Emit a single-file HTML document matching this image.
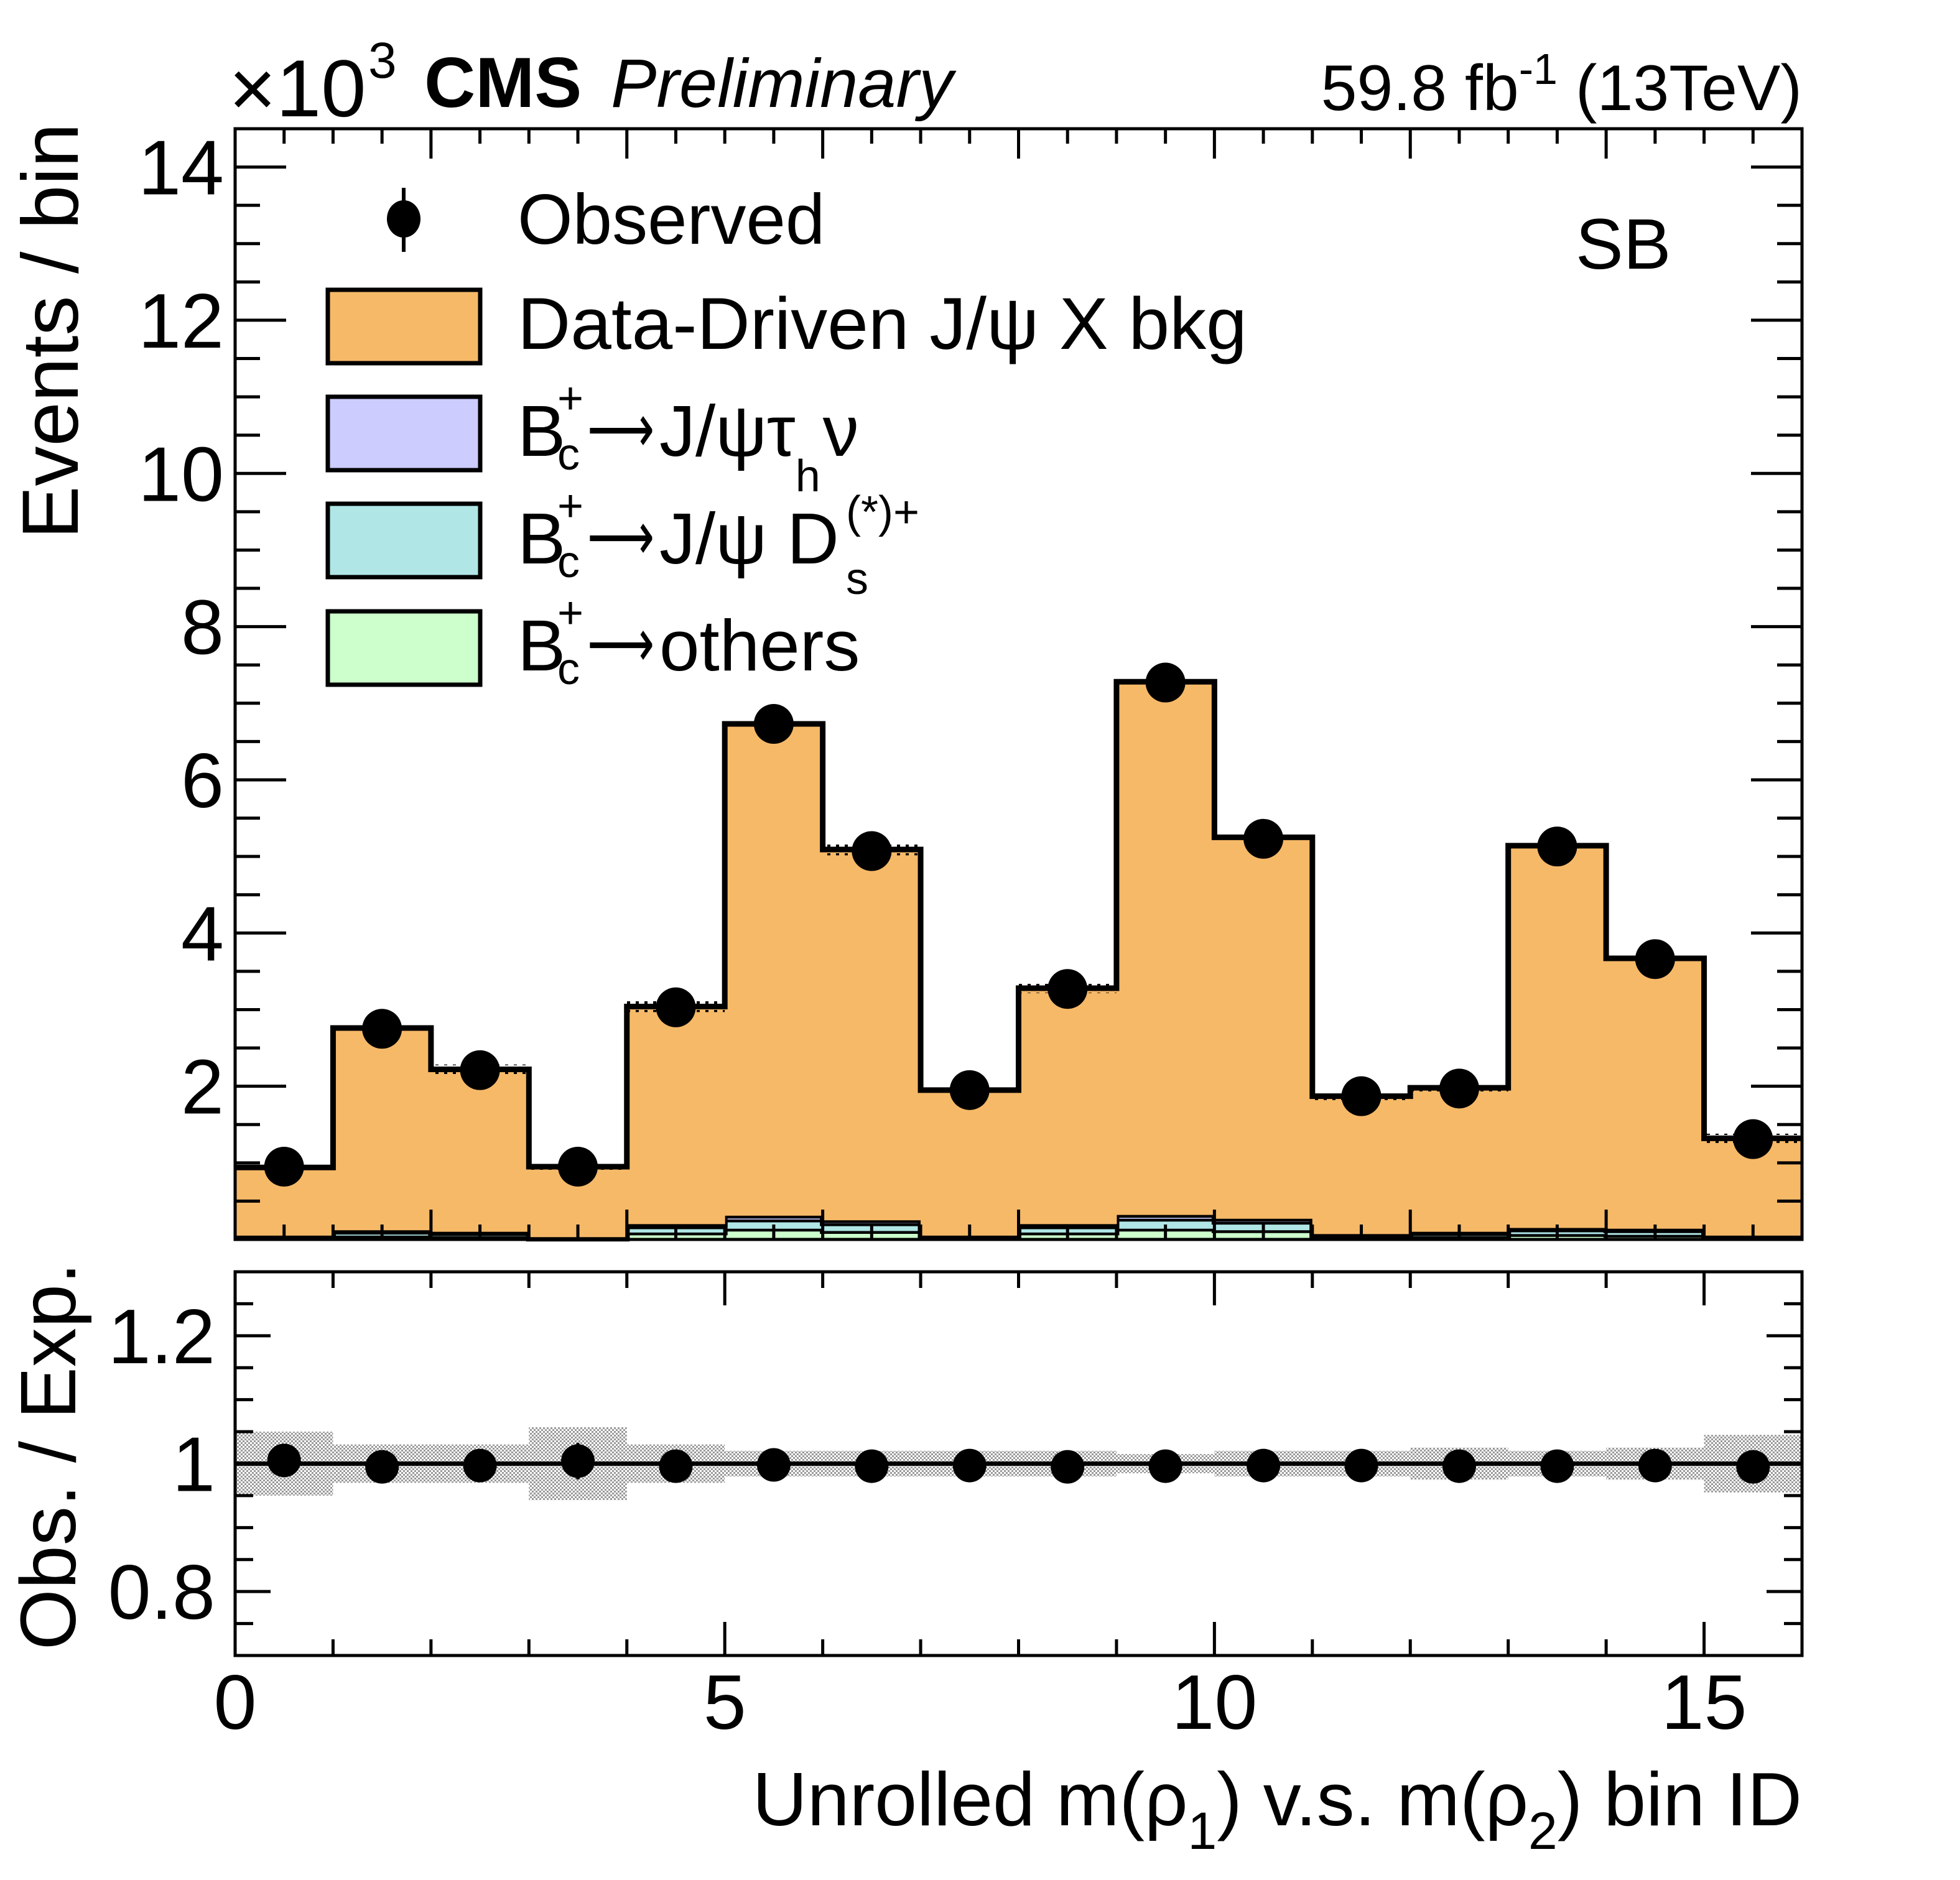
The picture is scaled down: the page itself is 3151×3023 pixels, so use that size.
<!DOCTYPE html>
<html><head><meta charset="utf-8"><style>
html,body{margin:0;padding:0;background:#fff;}
svg{display:block;font-family:"Liberation Sans",Arial,sans-serif;}
</style></head><body>
<svg id="c" width="3151" height="3023" viewBox="0 0 3151 3023" xmlns="http://www.w3.org/2000/svg">
<defs>
<pattern id="dots" width="14" height="14" patternUnits="userSpaceOnUse"><rect x="0" y="0" width="5" height="5" fill="#000"/></pattern>
<pattern id="check" width="6" height="6" patternUnits="userSpaceOnUse"><rect width="6" height="6" fill="#fff"/><rect x="0" y="0" width="3" height="3" fill="#999"/><rect x="3" y="3" width="3" height="3" fill="#999"/></pattern>
</defs>
<g id="g"></g>
</svg>
<script>
const nbins = 16;
const observed = [0.95,2.75,2.21,0.95,3.03,6.73,5.07,1.95,3.27,7.27,5.23,1.87,1.97,5.13,3.66,1.31];
const ddBkg = [0.89,2.64,2.12,0.92,2.84,6.42,4.84,1.90,3.08,6.96,4.98,1.80,1.88,4.99,3.53,1.27];
const others = [0.02,0.05,0.04,0.01,0.09,0.14,0.11,0.02,0.09,0.14,0.12,0.03,0.04,0.07,0.06,0.02];
const dsBkg = [0.02,0.05,0.04,0.01,0.08,0.12,0.10,0.02,0.08,0.13,0.11,0.03,0.04,0.06,0.06,0.02];
const tauSig = [0.01,0.02,0.02,0.01,0.03,0.05,0.04,0.01,0.03,0.05,0.04,0.01,0.02,0.02,0.02,0.01];
const ratio = [1.005,0.995,0.997,1.004,0.996,0.998,0.996,0.997,0.995,0.996,0.997,0.997,0.996,0.996,0.997,0.995];
const relErr = [0.05,0.03,0.03,0.057,0.03,0.02,0.02,0.02,0.02,0.015,0.02,0.02,0.025,0.02,0.025,0.045];
const upperTicks = [2,4,6,8,10,12,14];
const ratioTicks = [0.8,1,1.2];
const xTicks = [0,5,10,15];

const NS="http://www.w3.org/2000/svg";
const G=document.getElementById('g');
const L=378,R=2897,UT=207,UB=1993,RT=2045,RB=2662;
const X=v=>L+(R-L)*v/nbins;
const YU=v=>UB-(UB-UT)*v/14.5;
const YR=v=>RB-(RB-RT)*(v-0.7)/0.6;
function mk(tag,attrs,parent){const e=document.createElementNS(NS,tag);for(const k in attrs)e.setAttribute(k,attrs[k]);(parent||G).appendChild(e);return e;}
function txt(x,y,s,size,extra){const t=mk('text',Object.assign({x:x,y:y,'font-size':size},extra||{}));t.textContent=s;return t;}

const layers=[[others,'#ccffcc','stack-others'],[dsBkg,'#b0e6e6','stack-ds'],[tauSig,'#ccccff','stack-tau'],[ddBkg,'#f6b968','stack-datadriven']];
const base=new Array(nbins).fill(0);
layers.forEach(([arr,col,nm])=>{
  for(let i=0;i<nbins;i++){
    const y0=base[i],y1=base[i]+arr[i];
    const r=mk('rect',{x:X(i),y:YU(y1),width:X(i+1)-X(i)+0.5,height:YU(y0)-YU(y1),fill:col});
    
    
  }
  for(let i=0;i<nbins;i++)base[i]+=arr[i];
  let d='M'+X(0)+','+YU(base[0]);
  for(let i=0;i<nbins;i++){d+=' H'+X(i+1);if(i<nbins-1)d+=' V'+YU(base[i+1]);}
  const p=mk('path',{d:d,fill:'none',stroke:'#000','stroke-width':9});
  
  
});
for(let i=0;i<nbins;i++){
  const t=base[i],e=t*relErr[i]*0.35+0.04;
  const r=mk('rect',{x:X(i),y:YU(t+e),width:X(i+1)-X(i),height:YU(t-e)-YU(t+e),fill:'url(#dots)'});
  
  
}
for(let i=0;i<nbins;i++){
  const cx=(X(i)+X(i+1))/2;
  const c=mk('circle',{cx:cx,cy:YU(observed[i]),r:32,fill:'#000'});
  
  
}
for(let i=0;i<nbins;i++){
  const r=mk('rect',{x:X(i),y:YR(1+relErr[i]),width:X(i+1)-X(i),height:YR(1-relErr[i])-YR(1+relErr[i]),fill:'url(#check)'});
  
  
}
const rl=mk('line',{x1:L,x2:R,y1:YR(1),y2:YR(1),stroke:'#000','stroke-width':7});


for(let i=0;i<nbins;i++){
  const cx=(X(i)+X(i+1))/2;
  mk('line',{x1:cx,x2:cx,y1:YR(ratio[i]+relErr[i]*0.5),y2:YR(ratio[i]-relErr[i]*0.5),stroke:'#000','stroke-width':5});
  const c=mk('circle',{cx:cx,cy:YR(ratio[i]),r:27,fill:'#000'});
  
  
}
function frame(top,bot,nm){
  const r=mk('rect',{x:L,y:top,width:R-L,height:bot-top,fill:'none',stroke:'#000','stroke-width':5});
  
  
}
frame(UT,UB,'upper-frame');frame(RT,RB,'ratio-frame');
const tk=(x1,y1,x2,y2)=>mk('line',{x1:x1,y1:y1,x2:x2,y2:y2,stroke:'#000','stroke-width':5});
for(let v=0;v<=14.5;v+=0.5){const y=YU(v);const len=(v%2===0)?82:40;tk(L,y,L+len,y);tk(R,y,R-len,y);}
for(let v=0;v<=nbins;v+=0.5){const x=X(v);const len=(v%2===0)?48:24;tk(x,UT,x,UT+len);tk(x,UB,x,UB-len);}
for(let k=0;k<=12;k++){const v=0.7+k*0.05;const y=YR(v);const len=(k%4===2)?57:29;tk(L,y,L+len,y);tk(R,y,R-len,y);}
for(let v=0;v<=nbins;v++){const x=X(v);const len=(v%5===0)?54:26;tk(x,RT,x,RT+len);tk(x,RB,x,RB-len);}
upperTicks.forEach(v=>{const t=txt(360,YU(v)+44,String(v),124,{'text-anchor':'end'});});
ratioTicks.forEach(v=>{const t=txt(346,YR(v)+44,String(v),124,{'text-anchor':'end'});});
xTicks.forEach(v=>{const t=txt(X(v),2780,String(v),124,{'text-anchor':'middle'});});
</script>
<script>
(function(){
const G=document.getElementById('g');const NS="http://www.w3.org/2000/svg";
function T(x,y,size,html,extra,name){const t=document.createElementNS(NS,'text');t.setAttribute('x',x);t.setAttribute('y',y);t.setAttribute('font-size',size);for(const k in (extra||{}))t.setAttribute(k,extra[k]);t.innerHTML=html;G.appendChild(t);return t;}
T(368,187,130,'×10','', 'exponent-label');
T(592,125,82,'3','', 'exponent-power');
T(682,172,114,'CMS',{'font-weight':'bold'},'cms-label');
T(982,172,110,'Preliminary',{'font-style':'italic'},'preliminary-label');
T(2897,177,104,'59.8 fb<tspan dy="-42" font-size="70">-1</tspan><tspan dy="42"> (13TeV)</tspan>',{'text-anchor':'end'},'lumi-label');
T(2533,432,115,'SB','', 'region-label');
T(125,198,128,'Events / bin',{'text-anchor':'end',transform:'rotate(-90 125 198)'},'y-axis-title');
T(121,2030,126,'Obs. / Exp.',{'text-anchor':'end',transform:'rotate(-90 121 2030)'},'ratio-axis-title');
T(2897,2935,122,'Unrolled m(ρ<tspan dy="38" font-size="84">1</tspan><tspan dy="-38">) v.s. m(ρ</tspan><tspan dy="38" font-size="84">2</tspan><tspan dy="-38">) bin ID</tspan>',{'text-anchor':'end'},'x-axis-title');
const lg=document.createElementNS(NS,'g');G.appendChild(lg);
const c=document.createElementNS(NS,'ellipse');c.setAttribute('cx',649);c.setAttribute('cy',352);c.setAttribute('rx',27);c.setAttribute('ry',30);c.setAttribute('fill','#000');lg.appendChild(c);
const ln=document.createElementNS(NS,'line');ln.setAttribute('x1',649);ln.setAttribute('x2',649);ln.setAttribute('y1',302);ln.setAttribute('y2',405);ln.setAttribute('stroke','#000');ln.setAttribute('stroke-width',6);lg.appendChild(ln);
T(832,392,114,'Observed','', 'legend-observed-text');
const boxes=[[466,'#f6b968','legend-datadriven-box'],[638,'#ccccff','legend-tau-box'],[810,'#b0e6e6','legend-ds-box'],[983,'#ccffcc','legend-others-box']];
boxes.forEach(([y,col,nm])=>{const r=document.createElementNS(NS,'rect');r.setAttribute('x',527);r.setAttribute('y',y);r.setAttribute('width',245);r.setAttribute('height',118);r.setAttribute('fill',col);r.setAttribute('stroke','#000');r.setAttribute('stroke-width',7);lg.appendChild(r);});
T(832,561,118,'Data-Driven J/ψ X bkg','', 'legend-datadriven-text');
function bc(y,rest,name){T(832,y,116,'B','', name+'-b');T(896,y-68,72,'+','', name+'-plus');T(896,y+22,72,'c','', name+'-c');
  T(944,y-6,110,'⟶',{'font-family':'"DejaVu Sans",sans-serif',textLength:108,lengthAdjust:'spacingAndGlyphs'},name+'-arrow');
  return T(1060,y,116,rest,'',name);}
bc(733,'J/ψτ<tspan dy="57" font-size="72">h</tspan><tspan dy="-57" dx="4">ν</tspan>','legend-tau-text');
bc(906,'J/ψ D','legend-ds-text');
T(1360,955,72,'s','', 'legend-ds-sub');
T(1360,848,72,'(*)+','', 'legend-ds-sup');
bc(1078,' others','legend-others-text');
})();
</script>
</body></html>
